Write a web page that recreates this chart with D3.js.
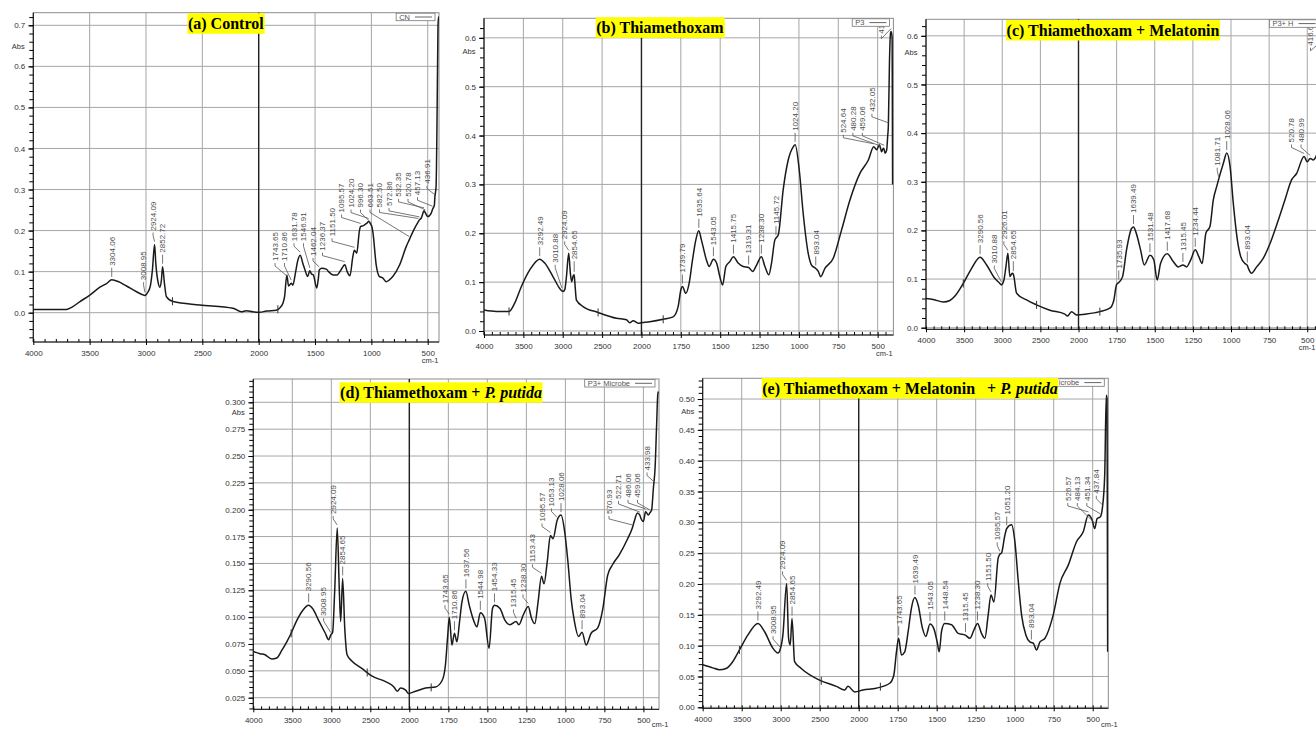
<!DOCTYPE html>
<html>
<head>
<meta charset="utf-8">
<script src="https://cdn.jsdelivr.net/npm/d3@7"></script>
<style>
  body { margin: 0; background: #fff; }
  svg text { font-family: "Liberation Sans", Arial, sans-serif; }
</style>
</head>
<body>
<svg id="fig" width="1316" height="729"></svg>
<script>
// spectra: [wavenumber cm-1, absorbance]
const specA = [[4000,0.008],[3850,0.008],[3705,0.008],[3660,0.013],[3586,0.027],[3498,0.043],[3409,0.062],[3350,0.071],[3304,0.080],[3247,0.076],[3173,0.065],[3084,0.051],[3040,0.045],[3009,0.042],[2996,0.045],[2981,0.051],[2960,0.067],[2943,0.104],[2924,0.166],[2913,0.12],[2892,0.073],[2878,0.062],[2863,0.080],[2853,0.112],[2836,0.071],[2819,0.039],[2760,0.027],[2523,0.019],[2228,0.011],[2154,0.002],[2110,0.005],[2051,0.002],[1992,0.001],[1932,0.004],[1844,0.006],[1815,0.011],[1785,0.023],[1770,0.040],[1750,0.092],[1735,0.065],[1711,0.072],[1697,0.067],[1673,0.098],[1655,0.125],[1632,0.140],[1608,0.12],[1589,0.104],[1565,0.088],[1547,0.102],[1530,0.094],[1515,0.092],[1485,0.060],[1470,0.085],[1462,0.104],[1440,0.108],[1400,0.106],[1380,0.100],[1340,0.092],[1306,0.092],[1270,0.104],[1236,0.117],[1215,0.100],[1190,0.090],[1165,0.136],[1151,0.152],[1130,0.145],[1106,0.20],[1095,0.210],[1070,0.212],[1040,0.218],[1024,0.222],[1005,0.215],[996,0.210],[987,0.197],[957,0.116],[928,0.088],[900,0.085],[869,0.0755],[840,0.080],[810,0.088],[750,0.116],[691,0.161],[663,0.178],[632,0.197],[583,0.222],[573,0.226],[558,0.23],[532,0.248],[521,0.243],[500,0.234],[470,0.242],[457,0.252],[441,0.262],[437,0.28],[426,0.307],[418,0.453],[409,0.697],[404,0.72],[400,0.72]];
const specB = [[4000,0.043],[3843,0.040],[3682,0.040],[3610,0.057],[3525,0.091],[3419,0.125],[3292,0.147],[3229,0.139],[3123,0.111],[3038,0.087],[3011,0.082],[2996,0.081],[2975,0.084],[2953,0.111],[2924,0.159],[2903,0.118],[2886,0.101],[2869,0.112],[2855,0.115],[2847,0.101],[2826,0.063],[2742,0.050],[2551,0.038],[2318,0.026],[2191,0.023],[2148,0.017],[2106,0.021],[2042,0.016],[2000,0.017],[1947,0.019],[1862,0.024],[1799,0.029],[1767,0.050],[1750,0.084],[1740,0.091],[1718,0.077],[1697,0.098],[1676,0.145],[1655,0.186],[1636,0.205],[1619,0.186],[1587,0.145],[1570,0.132],[1543,0.147],[1523,0.139],[1502,0.111],[1485,0.094],[1464,0.132],[1439,0.142],[1416,0.152],[1386,0.139],[1354,0.132],[1319,0.130],[1294,0.122],[1269,0.135],[1238,0.152],[1216,0.132],[1191,0.115],[1174,0.139],[1153,0.186],[1146,0.19],[1131,0.197],[1100,0.289],[1068,0.350],[1036,0.377],[1024,0.381],[998,0.330],[973,0.241],[941,0.159],[920,0.135],[893,0.128],[877,0.122],[862,0.111],[835,0.128],[782,0.149],[729,0.207],[676,0.268],[612,0.323],[559,0.350],[525,0.377],[506,0.371],[489,0.381],[480,0.372],[475,0.367],[464,0.374],[459,0.372],[453,0.364],[443,0.37],[436,0.40],[432,0.42],[425,0.55],[418,0.61],[414,0.613],[408,0.6],[405,0.30]];
const specC = [[4000,0.060],[3904,0.058],[3773,0.053],[3686,0.056],[3620,0.065],[3511,0.091],[3402,0.122],[3291,0.145],[3205,0.129],[3096,0.101],[3031,0.091],[3011,0.088],[2978,0.098],[2952,0.125],[2926,0.153],[2900,0.105],[2869,0.112],[2855,0.11],[2847,0.105],[2812,0.071],[2681,0.057],[2550,0.047],[2376,0.036],[2179,0.028],[2144,0.024],[2092,0.033],[2026,0.026],[1948,0.028],[1860,0.033],[1794,0.040],[1768,0.057],[1751,0.088],[1736,0.093],[1711,0.105],[1685,0.160],[1652,0.204],[1639,0.207],[1624,0.197],[1593,0.160],[1569,0.129],[1531,0.149],[1506,0.139],[1484,0.098],[1462,0.132],[1418,0.152],[1379,0.136],[1346,0.125],[1315,0.129],[1291,0.125],[1265,0.139],[1234,0.160],[1211,0.146],[1189,0.132],[1165,0.194],[1138,0.208],[1116,0.263],[1094,0.290],[1082,0.304],[1050,0.338],[1028,0.359],[1006,0.331],[985,0.256],[958,0.180],[936,0.146],[908,0.132],[893,0.128],[886,0.122],[865,0.112],[832,0.125],[788,0.143],[744,0.173],[690,0.221],[646,0.263],[603,0.304],[570,0.317],[521,0.352],[500,0.341],[481,0.348],[461,0.345],[445,0.35],[430,0.37],[420,0.5],[417,0.58],[410,0.58],[404,0.3]];
const specD = [[4000,0.068],[3914,0.066],[3850,0.065],[3764,0.061],[3700,0.062],[3635,0.069],[3571,0.077],[3515,0.085],[3442,0.097],[3369,0.106],[3291,0.111],[3240,0.108],[3163,0.097],[3077,0.085],[3034,0.079],[3009,0.083],[2983,0.086],[2957,0.124],[2924,0.183],[2897,0.124],[2880,0.096],[2855,0.136],[2828,0.090],[2798,0.065],[2734,0.059],[2605,0.052],[2476,0.045],[2305,0.040],[2197,0.035],[2155,0.031],[2112,0.034],[2047,0.032],[2013,0.029],[1960,0.031],[1896,0.034],[1832,0.035],[1790,0.041],[1769,0.055],[1754,0.083],[1744,0.100],[1727,0.074],[1711,0.085],[1695,0.077],[1678,0.096],[1663,0.114],[1638,0.124],[1616,0.111],[1588,0.097],[1567,0.091],[1545,0.104],[1518,0.099],[1489,0.071],[1467,0.108],[1454,0.111],[1419,0.108],[1387,0.097],[1355,0.093],[1316,0.096],[1298,0.093],[1270,0.102],[1238,0.110],[1217,0.099],[1196,0.094],[1175,0.114],[1153,0.138],[1137,0.131],[1116,0.152],[1096,0.176],[1079,0.173],[1053,0.190],[1028,0.195],[1005,0.180],[984,0.152],[963,0.117],[942,0.096],[916,0.082],[893,0.086],[867,0.074],[835,0.085],[793,0.090],[761,0.107],[729,0.139],[697,0.149],[655,0.158],[601,0.173],[571,0.183],[559,0.189],[538,0.197],[523,0.195],[516,0.192],[500,0.189],[486,0.198],[468,0.195],[459,0.197],[447,0.200],[436,0.220],[425,0.239],[415,0.28],[408,0.307],[404,0.31]];
const specE = [[4000,0.069],[3872,0.064],[3786,0.061],[3700,0.063],[3615,0.074],[3529,0.093],[3422,0.117],[3292,0.136],[3208,0.123],[3101,0.096],[3036,0.088],[3009,0.093],[2972,0.117],[2924,0.201],[2899,0.112],[2878,0.101],[2855,0.144],[2822,0.074],[2737,0.063],[2501,0.044],[2287,0.034],[2180,0.028],[2137,0.034],[2051,0.025],[1972,0.028],[1887,0.031],[1801,0.039],[1775,0.052],[1758,0.090],[1744,0.112],[1726,0.085],[1705,0.090],[1683,0.123],[1662,0.161],[1640,0.178],[1619,0.166],[1591,0.128],[1570,0.115],[1543,0.135],[1519,0.128],[1497,0.106],[1484,0.090],[1469,0.123],[1449,0.136],[1405,0.134],[1362,0.120],[1316,0.117],[1287,0.112],[1262,0.125],[1238,0.136],[1213,0.120],[1191,0.112],[1170,0.150],[1152,0.182],[1133,0.171],[1106,0.242],[1096,0.248],[1085,0.250],[1063,0.279],[1051,0.290],[1020,0.296],[999,0.269],[977,0.204],[956,0.150],[928,0.117],[903,0.106],[893,0.105],[881,0.104],[860,0.093],[838,0.106],[806,0.112],[753,0.150],[710,0.201],[656,0.231],[603,0.269],[560,0.285],[528,0.312],[504,0.304],[487,0.290],[472,0.306],[451,0.309],[438,0.323],[423,0.377],[413,0.506],[408,0.5],[404,0.090]];

// peak labels
const peaksA = ["3304.06","3008.95","2924.09","2852.72","1743.65","1710.86","1631.78","1546.91","1462.04","1236.37","1151.50","1095.57","1024.20","996.30","663.51","582.50","572.86","532.35","520.78","457.13","436.91"];
const peaksB = ["3292.49","3010.88","2924.09","2854.65","1739.79","1635.64","1543.05","1415.75","1319.31","1238.30","1145.72","1024.20","893.04","524.64","480.28","459.06","432.05","414"];
const peaksC = ["3290.56","3010.88","2926.01","2854.65","1735.93","1639.49","1531.48","1417.68","1315.45","1234.44","1081.71","1028.06","893.04","520.78","480.99","416.62"];
const peaksD = ["3290.56","3008.95","2924.09","2854.65","1743.65","1710.86","1637.56","1544.98","1454.33","1315.45","1238.30","1153.43","1095.57","1053.13","1028.06","893.04","570.93","522.71","486.06","459.06","433.98"];
const peaksE = ["3292.49","3008.95","2924.09","2854.65","1743.65","1639.49","1543.05","1448.54","1315.45","1238.30","1151.50","1095.57","1051.20","893.04","526.57","484.13","451.34","437.84"];

// small baseline markers on the trace
const marksA = [2765, 1830];
const marksB = [3682, 2551, 1862];
const marksC = [3511, 2550, 1860];
const marksD = [3515, 2540, 1860];
const marksE = [3529, 2480, 1861];

// tick labels
const xTicksLin = [4000, 3500, 3000, 2500, 2000, 1500, 1000, 500];
const xTicksSplit = [4000, 3500, 3000, 2500, 2000, 1750, 1500, 1250, 1000, 750, 500];
const yTicksA = [0, 0.1, 0.2, 0.3, 0.4, 0.5, 0.6, 0.7];
const yTicksB = [0, 0.1, 0.2, 0.3, 0.4, 0.5, 0.6];
const yTicksD = [0.025, 0.05, 0.075, 0.1, 0.125, 0.15, 0.175, 0.2, 0.225, 0.25, 0.275, 0.3];
const yTicksE = [0, 0.05, 0.1, 0.15, 0.2, 0.25, 0.3, 0.35, 0.4, 0.45, 0.5];

const titleA = [["(a) Control", false]];
const titleB = [["(b) Thiamethoxam", false]];
const titleC = [["(c) Thiamethoxam + Melatonin", false]];
const titleD = [["(d) Thiamethoxam + ", false], ["P. putida", true]];
const titleE = [["(e) Thiamethoxam + Melatonin   + ", false], ["P. putida", true]];

// legend text as far as it is visible (panel e's is hidden under its title)
const legends = ["CN", "P3", "P3+ H", "P3+ Microbe", "icrobe"];

const panels = [
  {spec: specA, peaks: peaksA, marks: marksA, legend: legends[0], title: titleA, split: false, xTicks: xTicksLin,
   x0: 33.3, x1: 439, y0: 12.7, y1: 342, yDom: [-0.0714, 0.7307], yTicks: yTicksA, yMinor: 0.02, yFmt: ".1f", tx: 225.8, ty: 13.3},
  {spec: specB, peaks: peaksB, marks: marksB, legend: legends[1], title: titleB, split: true, xTicks: xTicksSplit,
   x0: 484, x1: 893.4, y0: 18.3, y1: 335, yDom: [-0.0082, 0.640], yTicks: yTicksB, yMinor: 0.02, yFmt: ".1f", tx: 659.9, ty: 17.3},
  {spec: specC, peaks: peaksC, marks: marksC, legend: legends[2], title: titleC, split: true, xTicks: xTicksSplit,
   x0: 926, x1: 1322.5, y0: 19.3, y1: 329.3, yDom: [-0.0033, 0.634], yTicks: yTicksB, yMinor: 0.02, yFmt: ".1f", tx: 1113, ty: 20},
  {spec: specD, peaks: peaksD, marks: marksD, legend: legends[3], title: titleD, split: true, xTicks: xTicksSplit,
   x0: 253.3, x1: 659, y0: 379, y1: 709.3, yDom: [0.0142, 0.3217], yTicks: yTicksD, yMinor: 0.005, yFmt: ".3f", tx: 441, ty: 382.3},
  {spec: specE, peaks: peaksE, marks: marksE, legend: legends[4], title: titleE, split: true, xTicks: xTicksSplit,
   x0: 702.7, x1: 1108.3, y0: 378.3, y1: 708.3, yDom: [-0.0016, 0.5336], yTicks: yTicksE, yMinor: 0.01, yFmt: ".2f", tx: 910, ty: 378}
];

const W = 1316, H = 729;
const svg = d3.select("#fig");

function valAt(spec, wn) {
  for (let i = 0; i < spec.length - 1; i++) {
    const [w0, v0] = spec[i], [w1, v1] = spec[i + 1];
    if (wn <= w0 && wn >= w1) return v0 + (v1 - v0) * (w0 - wn) / (w0 - w1);
  }
  return spec[spec.length - 1][1];
}

function peakVal(spec, wn) {
  let v = valAt(spec, wn);
  spec.forEach(d => { if (Math.abs(d[0] - wn) <= 6) v = Math.max(v, d[1]); });
  return v;
}

panels.forEach((p, i) => drawPanel(p, i));

function drawPanel(p, idx) {
  const g = svg.append("g");
  const w = p.x1 - p.x0;

  // FTIR convention: scale doubles below 2000 cm-1 in panels b-e
  const x = p.split
    ? d3.scaleLinear().domain([4000, 2000, 400]).range([p.x0, p.x0 + w * 2000 / 5200, p.x1])
    : d3.scaleLinear().domain([4000, 400]).range([p.x0, p.x1]);
  const y = d3.scaleLinear().domain(p.yDom).range([p.y1, p.y0]);

  g.append("clipPath").attr("id", "clip" + idx)
    .append("rect").attr("x", p.x0).attr("y", p.y0).attr("width", w).attr("height", p.y1 - p.y0);

  // grid
  g.append("g").selectAll("line").data(p.xTicks).join("line")
    .attr("x1", d => x(d)).attr("x2", d => x(d))
    .attr("y1", p.y0).attr("y2", p.y1)
    .attr("stroke", "#a6a6a6").attr("stroke-width", 1);
  g.append("g").selectAll("line").data(p.yTicks).join("line")
    .attr("x1", p.x0).attr("x2", p.x1)
    .attr("y1", d => y(d)).attr("y2", d => y(d))
    .attr("stroke", "#a6a6a6").attr("stroke-width", 1);

  // frame
  g.append("rect").attr("x", p.x0).attr("y", p.y0).attr("width", w).attr("height", p.y1 - p.y0)
    .attr("fill", "none").attr("stroke", "#8c8c8c");

  // dark line at 2000
  g.append("line").attr("x1", x(2000)).attr("x2", x(2000)).attr("y1", p.y0).attr("y2", p.y1)
    .attr("stroke", "#222").attr("stroke-width", 1.4);

  // y axis
  const yMinorVals = d3.range(Math.ceil(p.yDom[0] / p.yMinor) * p.yMinor, p.yDom[1], p.yMinor);
  g.append("g").attr("transform", `translate(${p.x0},0)`)
    .call(d3.axisLeft(y).tickValues(yMinorVals).tickSize(4).tickSizeOuter(0).tickFormat(""))
    .call(s => s.select(".domain").remove());
  const ya = g.append("g").attr("transform", `translate(${p.x0},0)`)
    .call(d3.axisLeft(y).tickValues(p.yTicks).tickSize(5).tickPadding(3).tickSizeOuter(0).tickFormat(d3.format(p.yFmt)));
  ya.select(".domain").attr("d", `M0,${p.y0}V${p.y1}`).attr("stroke", "#111");
  ya.selectAll("text").attr("font-size", 8).attr("fill", "#333").attr("font-family", "Liberation Sans, Arial, sans-serif");

  // x axis
  const xMinorVals = p.split
    ? d3.range(4000, 2000, -100).concat(d3.range(2000, 401, -50))
    : d3.range(4000, 401, -100);
  g.append("g").attr("transform", `translate(0,${p.y1})`)
    .call(d3.axisTop(x).tickValues(xMinorVals).tickSize(3).tickSizeOuter(0).tickFormat(""))
    .call(s => s.select(".domain").remove());
  const xa = g.append("g").attr("transform", `translate(0,${p.y1})`)
    .call(d3.axisBottom(x).tickValues(p.xTicks).tickSize(3).tickPadding(5).tickSizeOuter(0).tickFormat(d3.format("d")));
  xa.select(".domain").attr("d", `M${p.x0},0H${p.x1}`).attr("stroke", "#111");
  xa.selectAll("text").attr("font-size", 8).attr("fill", "#333").attr("font-family", "Liberation Sans, Arial, sans-serif");

  g.append("text").attr("x", p.x0 - 15).attr("y", p.y0 + 36).attr("text-anchor", "middle")
    .attr("font-size", 7.5).attr("fill", "#333").text("Abs");
  // unit label, kept inside the page; near the bottom edge it sits beside the "500" label
  const low = p.y1 + 21 > H - 2;
  g.append("text")
    .attr("x", low ? p.x1 + 1 : Math.min(p.x1 - 9, W - 9))
    .attr("y", low ? H - 2 : p.y1 + 21)
    .attr("text-anchor", "middle").attr("font-size", 7.5).attr("fill", "#333").text("cm-1");

  // spectrum
  const line = d3.line().x(d => x(d[0])).y(d => y(d[1])).curve(d3.curveMonotoneX);
  const plot = g.append("g").attr("clip-path", `url(#clip${idx})`);
  plot.append("path").datum(p.spec).attr("d", line)
    .attr("fill", "none").attr("stroke", "#1a1a1a").attr("stroke-width", 1.5).attr("stroke-linejoin", "round");
  plot.selectAll("line.mark").data(p.marks).join("line").attr("class", "mark")
    .attr("x1", d => x(d)).attr("x2", d => x(d))
    .attr("y1", d => y(valAt(p.spec, d)) - 4).attr("y2", d => y(valAt(p.spec, d)) + 4)
    .attr("stroke", "#333").attr("stroke-width", 1);

  // peak labels, pushed leftwards when crowded
  const items = p.peaks.map(s => {
    const wn = parseFloat(s);
    return {s, px: x(wn), py: y(peakVal(p.spec, wn))};
  }).sort((a, b) => b.px - a.px);
  let prev = Infinity;
  const lab = plot.append("g");
  items.forEach(it => {
    it.lx = Math.min(it.px, prev - 9.5, p.x1 - 12);
    prev = it.lx;
    let top = Math.min(it.py, y(valAt(p.spec, x.invert(it.lx))));
    p.spec.forEach(d => {
      const dx = x(d[0]);
      if (dx >= it.lx - 4 && dx <= it.px) top = Math.min(top, y(d[1]));
    });
    it.lb = top - 12;
    const t = lab.append("text").attr("font-size", 8).attr("fill", "#4d4d4d")
      .attr("dy", "0.35em").text(it.s);
    const len = t.node().getComputedTextLength();
    if (it.lb - 2 - len < p.y0 + 2) it.lb = p.y0 + 4 + len;
    t.attr("transform", `translate(${it.lx},${it.lb - 2}) rotate(-90)`);
    const pts = [[it.px, it.py - 3], [it.lx, it.lb + 3], [it.lx, it.lb]];
    if (it.lx === it.px) pts.splice(1, 1);
    lab.append("path").attr("d", d3.line()(pts))
      .attr("fill", "none").attr("stroke", "#555").attr("stroke-width", 0.8);
  });

  // legend
  const lg = g.append("g");
  const lt = lg.append("text").attr("font-size", 7.5).attr("fill", "#555").text(p.legend);
  const tw = lt.node().getComputedTextLength();
  const bw = tw + 28, bx = p.x1 - 4 - bw, by = p.y0 + 0.5;
  lg.insert("rect", "text").attr("x", bx).attr("y", by).attr("width", bw).attr("height", 7.5)
    .attr("fill", "#fff").attr("stroke", "#777").attr("stroke-width", 0.8);
  lt.attr("x", bx + 3).attr("y", by + 6.4);
  lg.append("line").attr("x1", bx + tw + 8).attr("x2", bx + bw - 3)
    .attr("y1", by + 3.8).attr("y2", by + 3.8).attr("stroke", "#666").attr("stroke-width", 1);

  // title
  const tg = g.append("g");
  const tt = tg.append("text").attr("x", p.tx).attr("y", p.ty + 15.5)
    .attr("text-anchor", "middle").attr("font-size", 16).attr("font-weight", "bold")
    .attr("fill", "#000").style("white-space", "pre")
    .style("font-family", '"Liberation Serif", "Times New Roman", serif');
  p.title.forEach(([txt, it]) => tt.append("tspan").attr("font-style", it ? "italic" : null).text(txt));
  const bb = tt.node().getBBox();
  tg.insert("rect", "text").attr("x", bb.x - 0.5).attr("y", p.ty)
    .attr("width", bb.width + 1).attr("height", 20.5).attr("fill", "#ffff00");
}
</script>
</body>
</html>
